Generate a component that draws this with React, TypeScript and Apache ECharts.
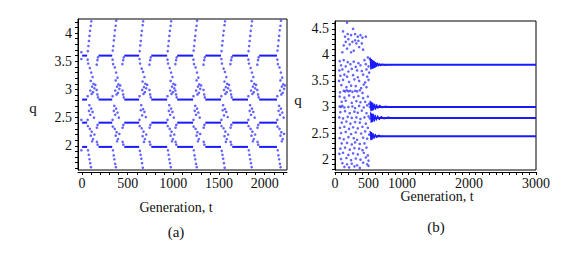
import React, { useEffect, useRef } from "react";
import * as echarts from "echarts";

// ---------- Panel (a) ----------
const levelsA = [3.6, 2.82, 2.41, 1.98];
const plateauStartA = [0, 180, 462, 758, 1042, 1350, 1645, 1940];
const plateauEndA = [55, 330, 625, 932, 1216, 1522, 1818, 2135];
const xTicksA = [0, 100, 200, 300, 400, 500, 600, 700, 800, 900, 1000, 1100, 1200, 1300, 1400, 1500, 1600, 1700, 1800, 1900, 2000, 2100, 2200];
const xLabelsA = [0, 500, 1000, 1500, 2000];
const yTicksA = [1.6, 1.7, 1.8, 1.9, 2, 2.1, 2.2, 2.3, 2.4, 2.5, 2.6, 2.7, 2.8, 2.9, 3, 3.1, 3.2, 3.3, 3.4, 3.5, 3.6, 3.7, 3.8, 3.9, 4, 4.1, 4.2];
const yLabelsA = [2, 2.5, 3, 3.5, 4];

const scatterA: number[][] = [
  // column 0
  [63,3.68],[69,3.77],[75,3.86],[81,3.95],[87,4.04],[95,4.13],[101,4.21],[61,3.53],[67,3.46],
  [85,3.38],[100,3.30],[115,3.22],[95,3.15],[125,3.10],[110,3.05],[135,3.02],[90,2.98],[120,2.95],[145,3.08],[105,2.92],
  [160,3.44],[168,3.52],[174,3.57],[160,2.99],[168,2.91],[174,2.86],[61,2.88],
  [80,2.72],[100,2.66],[115,2.60],[90,2.55],[130,2.50],[75,2.62],
  [61,2.46],[63,2.35],[85,2.30],[105,2.25],[95,2.18],[120,2.12],[135,2.20],[110,2.08],[162,2.32],[170,2.37],[162,2.07],[170,2.02],
  [65,1.92],[73,1.84],[81,1.76],[89,1.69],[97,1.62],[-8,3.66],[-8,3.54],[-8,2.46],[-8,1.92],
  // column 1
  [336,3.69],[342,3.77],[348,3.87],[354,3.95],[360,4.05],[368,4.13],[374,4.22],[334,3.53],[340,3.45],
  [358,3.39],[373,3.30],[388,3.21],[368,3.16],[398,3.09],[383,3.05],[408,3.01],[363,2.98],[393,2.94],[418,3.07],[378,2.91],
  [442,3.45],[450,3.52],[456,3.57],[442,2.98],[450,2.91],[456,2.86],[334,2.88],
  [353,2.71],[373,2.66],[388,2.59],[363,2.55],[403,2.50],[348,2.62],
  [334,2.46],[336,2.34],[358,2.30],[378,2.24],[368,2.18],[393,2.12],[408,2.21],[383,2.08],[444,2.32],[452,2.37],[444,2.07],[452,2.02],
  [338,1.92],[346,1.83],[354,1.76],[362,1.68],[370,1.62],
  // column 2
  [631,3.68],[637,3.78],[643,3.86],[649,3.96],[655,4.04],[663,4.14],[669,4.21],[629,3.54],[635,3.46],
  [653,3.37],[668,3.31],[683,3.22],[663,3.14],[693,3.10],[678,3.04],[703,3.02],[658,2.99],[688,2.95],[713,3.08],[673,2.92],
  [738,3.44],[746,3.52],[752,3.57],[738,2.99],[746,2.91],[752,2.86],[629,2.88],
  [648,2.72],[668,2.65],[683,2.60],[658,2.54],[698,2.51],[643,2.63],
  [629,2.46],[631,2.35],[653,2.31],[673,2.25],[663,2.17],[688,2.12],[703,2.20],[678,2.07],[740,2.32],[748,2.37],[740,2.07],[748,2.02],
  [633,1.91],[641,1.84],[649,1.77],[657,1.69],[665,1.61],
  // column 3
  [938,3.68],[944,3.77],[950,3.86],[956,3.95],[962,4.04],[970,4.13],[976,4.21],[936,3.53],[942,3.46],
  [960,3.38],[975,3.30],[990,3.22],[970,3.15],[1000,3.10],[985,3.05],[1010,3.02],[965,2.98],[995,2.95],[1020,3.08],[980,2.92],
  [1022,3.45],[1030,3.52],[1036,3.57],[1022,2.98],[1030,2.91],[1036,2.86],[936,2.88],
  [955,2.72],[975,2.66],[990,2.60],[965,2.55],[1005,2.50],[950,2.62],
  [936,2.46],[938,2.35],[960,2.30],[980,2.25],[970,2.18],[995,2.12],[1010,2.20],[985,2.08],[1024,2.32],[1032,2.37],[1024,2.07],[1032,2.02],
  [940,1.92],[948,1.84],[956,1.76],[964,1.69],[972,1.62],
  // column 4
  [1222,3.69],[1228,3.77],[1234,3.87],[1240,3.95],[1246,4.05],[1254,4.13],[1260,4.22],[1220,3.53],[1226,3.45],
  [1244,3.39],[1259,3.30],[1274,3.21],[1254,3.16],[1284,3.09],[1269,3.05],[1294,3.01],[1249,2.98],[1279,2.94],[1304,3.07],[1264,2.91],
  [1330,3.44],[1338,3.52],[1344,3.57],[1330,2.99],[1338,2.91],[1344,2.86],[1220,2.88],
  [1239,2.71],[1259,2.66],[1274,2.59],[1249,2.55],[1289,2.50],[1234,2.62],
  [1220,2.46],[1222,2.34],[1244,2.30],[1264,2.24],[1254,2.18],[1279,2.12],[1294,2.21],[1269,2.08],[1332,2.32],[1340,2.37],[1332,2.07],[1340,2.02],
  [1224,1.92],[1232,1.83],[1240,1.76],[1248,1.68],[1256,1.62],
  // column 5
  [1528,3.68],[1534,3.78],[1540,3.86],[1546,3.96],[1552,4.04],[1560,4.14],[1566,4.21],[1526,3.54],[1532,3.46],
  [1550,3.37],[1565,3.31],[1580,3.22],[1560,3.14],[1590,3.10],[1575,3.04],[1600,3.02],[1555,2.99],[1585,2.95],[1610,3.08],[1570,2.92],
  [1625,3.45],[1633,3.52],[1639,3.57],[1625,2.98],[1633,2.91],[1639,2.86],[1526,2.88],
  [1545,2.72],[1565,2.65],[1580,2.60],[1555,2.54],[1595,2.51],[1540,2.63],
  [1526,2.46],[1528,2.35],[1550,2.31],[1570,2.25],[1560,2.17],[1585,2.12],[1600,2.20],[1575,2.07],[1627,2.32],[1635,2.37],[1627,2.07],[1635,2.02],
  [1530,1.91],[1538,1.84],[1546,1.77],[1554,1.69],[1562,1.61],
  // column 6
  [1824,3.68],[1830,3.77],[1836,3.86],[1842,3.95],[1848,4.04],[1856,4.13],[1862,4.21],[1822,3.53],[1828,3.46],
  [1846,3.38],[1861,3.30],[1876,3.22],[1856,3.15],[1886,3.10],[1871,3.05],[1896,3.02],[1851,2.98],[1881,2.95],[1906,3.08],[1866,2.92],
  [1920,3.44],[1928,3.52],[1934,3.57],[1920,2.99],[1928,2.91],[1934,2.86],[1822,2.88],
  [1841,2.72],[1861,2.66],[1876,2.60],[1851,2.55],[1891,2.50],[1836,2.62],
  [1822,2.46],[1824,2.35],[1846,2.30],[1866,2.25],[1856,2.18],[1881,2.12],[1896,2.20],[1871,2.08],[1922,2.32],[1930,2.37],[1922,2.07],[1930,2.02],
  [1826,1.92],[1834,1.84],[1842,1.76],[1850,1.69],[1858,1.62],
  // column 7
  [2141,3.69],[2147,3.77],[2153,3.87],[2159,3.95],[2165,4.05],[2173,4.13],[2179,4.22],[2139,3.53],[2145,3.45],
  [2163,3.39],[2178,3.30],[2193,3.21],[2173,3.16],[2203,3.09],[2188,3.05],[2213,3.01],[2168,2.98],[2198,2.94],[2223,3.07],[2183,2.91],
  [2139,2.88],
  [2158,2.71],[2178,2.66],[2193,2.59],[2168,2.55],[2208,2.50],[2153,2.62],
  [2139,2.46],[2141,2.34],[2163,2.30],[2183,2.24],[2173,2.18],[2198,2.12],[2213,2.21],[2188,2.08],
  [2143,1.92],[2151,1.83],[2159,1.76],[2167,1.68],[2175,1.62],
];

// ---------- Panel (b) ----------
const levelsB = [3.81, 3.0, 2.79, 2.44];
const lineStartB = [600, 610, 620, 600];
const lineEndB = [3000, 3000, 3000, 3000];
const xTicksB = [0, 100, 200, 300, 400, 500, 600, 700, 800, 900, 1000, 1100, 1200, 1300, 1400, 1500, 1600, 1700, 1800, 1900, 2000, 2100, 2200, 2300, 2400, 2500, 2600, 2700, 2800, 2900, 3000];
const xLabelsB = [0, 500, 1000, 2000, 3000];
const yTicksB = [1.8, 1.9, 2, 2.1, 2.2, 2.3, 2.4, 2.5, 2.6, 2.7, 2.8, 2.9, 3, 3.1, 3.2, 3.3, 3.4, 3.5, 3.6, 3.7, 3.8, 3.9, 4, 4.1, 4.2, 4.3, 4.4, 4.5, 4.6];
const yLabelsB = [2, 2.5, 3, 3.5, 4, 4.5];

const flare381 = [[525,3.95],[535,3.72],[545,3.92],[555,3.73],[565,3.90],[575,3.74],[585,3.88],[595,3.75],[605,3.86],[615,3.77],[630,3.85],[645,3.78],[660,3.835],[680,3.79],[705,3.825],[740,3.80],[800,3.815],[860,3.81]];
const flare300 = [[525,3.12],[535,2.92],[545,3.10],[555,2.93],[565,3.08],[575,2.94],[590,3.06],[605,2.95],[620,3.05],[640,2.97],[665,3.035],[700,2.985],[750,3.015],[820,2.995],[910,3.0]];
const flare279 = [[530,2.90],[540,2.70],[550,2.88],[560,2.71],[572,2.87],[585,2.72],[600,2.85],[615,2.74],[635,2.835],[660,2.755],[690,2.82],[730,2.77],[790,2.805],[870,2.785],[990,2.79]];
const flare244 = [[525,2.54],[535,2.36],[545,2.52],[555,2.37],[568,2.50],[582,2.39],[600,2.48],[620,2.41],[650,2.46],[690,2.43],[720,2.44]];

const scatterB: number[][] = [
  [180,4.62],[120,4.45],[270,4.50],[150,4.35],[200,4.30],[240,4.38],[300,4.40],[340,4.35],[380,4.38],[410,4.33],
  [220,4.20],[260,4.25],[320,4.22],[180,4.12],[240,4.05],[360,4.15],[130,4.18],[280,4.08],[400,4.22],[300,4.28],
  [160,4.25],[350,4.27],[190,4.40],[420,4.10],[460,4.35],[110,4.05],
  [70,3.88],[130,3.90],[190,3.86],[280,3.87],[350,3.84],[440,3.90],[490,3.95],[520,3.92],
  [90,3.80],[160,3.78],[230,3.82],[310,3.77],[380,3.80],[460,3.82],[500,3.78],
  [65,3.70],[110,3.72],[200,3.68],[250,3.73],[330,3.70],[400,3.69],[470,3.72],[510,3.66],
  [80,3.60],[140,3.62],[180,3.58],[270,3.61],[340,3.57],[420,3.62],[480,3.58],
  [60,3.50],[120,3.52],[210,3.48],[290,3.53],[360,3.50],[450,3.47],[500,3.52],
  [95,3.42],[170,3.38],[240,3.41],[310,3.40],[390,3.36],[430,3.43],[470,3.38],
  [130,3.31],[150,3.30],[175,3.32],[200,3.30],[225,3.31],[260,3.29],[300,3.31],[330,3.30],[370,3.32],[75,3.28],[410,3.27],
  [70,3.20],[140,3.18],[210,3.22],[280,3.19],[350,3.21],[420,3.17],[490,3.20],
  [100,3.10],[160,3.12],[250,3.08],[320,3.11],[380,3.09],[450,3.10],[510,3.06],
  [70,3.01],[90,3.00],[110,3.02],[140,2.99],[200,3.00],[260,3.01],[300,2.98],[360,3.02],[430,2.99],[480,3.03],[520,3.00],
  [80,2.90],[150,2.92],[220,2.88],[290,2.91],[340,2.89],[400,2.93],[470,2.88],
  [65,2.80],[120,2.78],[190,2.81],[250,2.79],[320,2.80],[380,2.77],[440,2.80],[500,2.82],[520,2.78],
  [100,2.70],[170,2.72],[230,2.68],[300,2.71],[370,2.70],[460,2.68],
  [75,2.60],[140,2.62],[210,2.58],[270,2.61],[340,2.59],[410,2.62],[490,2.60],
  [90,2.50],[160,2.52],[240,2.48],[310,2.51],[390,2.49],[450,2.53],[510,2.47],
  [70,2.40],[130,2.38],[200,2.42],[280,2.40],[330,2.37],[420,2.41],[480,2.39],
  [100,2.30],[180,2.31],[250,2.28],[300,2.32],[370,2.29],[440,2.30],
  [80,2.20],[150,2.22],[220,2.18],[290,2.21],[360,2.20],[410,2.17],[470,2.22],
  [65,2.10],[120,2.12],[200,2.08],[270,2.11],[340,2.09],[430,2.12],[490,2.07],
  [90,2.00],[170,2.02],[240,1.98],[310,2.01],[380,1.99],[460,2.03],[500,1.97],
  [110,1.92],[180,1.90],[250,1.91],[330,1.88],[420,1.93],[480,1.90],
  [140,1.85],[210,1.84],[290,1.86],[370,1.83],[500,1.87],
];

const FONT = "Liberation Serif";
const DOT = "#3c3cff";
const LINE = "#1a1aff";
const fmt = (v: number) => String(v);

function axisX(gridIndex: number, min: number, max: number, ticks: number[], labels: number[]) {
  return {
    type: "value", gridIndex, min, max, offset: 2,
    axisLine: { show: true, onZero: false, lineStyle: { color: "#000", width: 1 } },
    axisTick: { show: true, customValues: ticks, length: 3, lineStyle: { color: "#000" } },
    axisLabel: { customValues: labels, formatter: fmt, margin: 4, fontSize: 14, fontFamily: FONT, color: "#111" },
    splitLine: { show: false },
  };
}
function axisY(gridIndex: number, min: number, max: number, ticks: number[], labels: number[]) {
  return {
    type: "value", gridIndex, min, max,
    axisLine: { show: true, onZero: false, lineStyle: { color: "#000", width: 1 } },
    axisTick: { show: true, customValues: ticks, length: 3, lineStyle: { color: "#000" } },
    axisLabel: { customValues: labels, formatter: fmt, margin: 6, fontSize: 14, fontFamily: FONT, color: "#111" },
    splitLine: { show: false },
  };
}

export default function App() {
  const ref = useRef<HTMLDivElement>(null);
  useEffect(() => {
    if (!ref.current) return;
    const chart = echarts.init(ref.current, undefined, { renderer: "svg" });
    const series: any[] = [];
    levelsA.forEach((lv) => {
      plateauStartA.forEach((s, i) => {
        series.push({
          type: "line", xAxisIndex: 0, yAxisIndex: 0, showSymbol: false, silent: true,
          data: [[s, lv], [plateauEndA[i], lv]],
          lineStyle: { color: LINE, width: 2 },
        });
      });
    });
    series.push({
      type: "scatter", xAxisIndex: 0, yAxisIndex: 0, data: scatterA, symbolSize: 2.6,
      itemStyle: { color: DOT }, silent: true,
    });
    levelsB.forEach((lv, i) => {
      series.push({
        type: "line", xAxisIndex: 1, yAxisIndex: 1, showSymbol: false, silent: true,
        data: [[lineStartB[i], lv], [lineEndB[i], lv]],
        lineStyle: { color: LINE, width: 2 },
      });
    });
    [flare381, flare300, flare279, flare244].forEach((f) => {
      series.push({
        type: "line", xAxisIndex: 1, yAxisIndex: 1, showSymbol: false, silent: true,
        data: f, lineStyle: { color: LINE, width: 1.2 },
      });
    });
    series.push({
      type: "scatter", xAxisIndex: 1, yAxisIndex: 1, data: scatterB, symbolSize: 2.6,
      itemStyle: { color: DOT }, silent: true,
    });

    const txt = (x: number, y: number, text: string, size = 14) => ({
      type: "text", x, y,
      style: { text, fontSize: size, fontFamily: FONT, fill: "#111", align: "center", verticalAlign: "middle" },
    });

    chart.setOption({
      animation: false,
      backgroundColor: "#fff",
      textStyle: { fontFamily: FONT },
      grid: [
        { left: 78, top: 19, width: 209, height: 151, show: true, borderColor: "#000", borderWidth: 1, backgroundColor: "transparent" },
        { left: 335, top: 21, width: 201, height: 149, show: true, borderColor: "#000", borderWidth: 1, backgroundColor: "transparent" },
      ],
      xAxis: [
        axisX(0, -45, 2245, xTicksA, xLabelsA),
        axisX(1, 0, 3000, xTicksB, xLabelsB),
      ],
      yAxis: [
        axisY(0, 1.57, 4.25, yTicksA, yLabelsA),
        axisY(1, 1.79, 4.65, yTicksB, yLabelsB),
      ],
      series,
      graphic: [
        txt(33, 108, "q", 15),
        txt(176, 207, "Generation, t"),
        txt(176, 232, "(a)", 15),
        txt(298, 100, "q", 15),
        txt(437, 196, "Generation, t"),
        txt(436, 227, "(b)", 15),
      ],
    });
    return () => chart.dispose();
  }, []);
  return <div ref={ref} style={{ position: "fixed", left: 0, top: 0, width: 572, height: 257 }} />;
}
